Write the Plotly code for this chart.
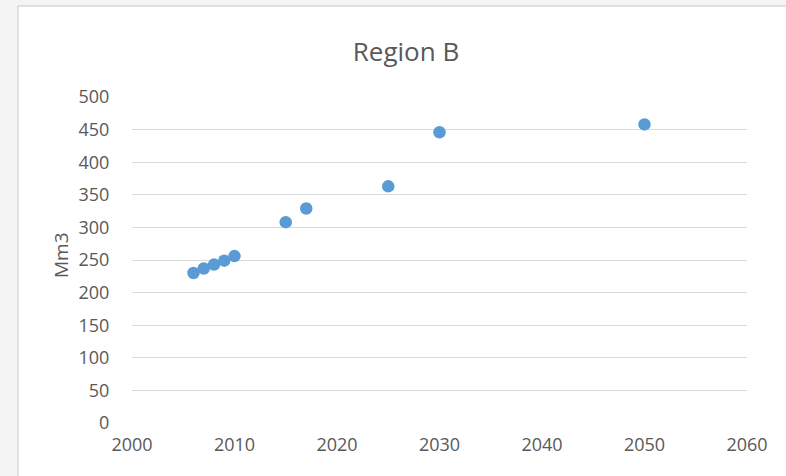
import plotly.graph_objects as go

years = [2006, 2007, 2008, 2009, 2010, 2015, 2017, 2025, 2030, 2050]
values = [230, 237, 243, 249, 256, 308, 329, 363, 446, 458]
title_text = "Region B"
y_title = "Mm3"
x_ticks = [2000, 2010, 2020, 2030, 2040, 2050, 2060]
y_ticks = list(range(0, 501, 50))

W, H = 786, 476
L, R, T, B = 132, 39, 97, 53
pw, ph = W - L - R, H - T - B

def px_x(p):
    return (p - L) / pw

def px_y(p):
    return (H - B - p) / ph

fig = go.Figure()
fig.add_trace(go.Scatter(
    x=years, y=values, mode="markers",
    marker=dict(color="#5b9bd5", size=12.5),
    showlegend=False,
))

font_family = "Open Sans, Liberation Sans, sans-serif"
grey = "#595959"
fig.update_layout(
    width=W, height=H,
    margin=dict(l=L, r=R, t=T, b=B, autoexpand=False),
    paper_bgcolor="white",
    plot_bgcolor="white",
    title=dict(text=title_text, x=406 / W, xanchor="center",
               y=1 - 52 / H, yanchor="middle",
               font=dict(family=font_family, size=26, color=grey)),
    xaxis=dict(range=[2000, 2060], tickvals=x_ticks, showgrid=False, zeroline=False,
               showline=False, ticks="outside", ticklen=5, tickcolor="rgba(0,0,0,0)",
               tickfont=dict(family=font_family, size=18, color=grey)),
    yaxis=dict(range=[0, 500], tickvals=y_ticks, showgrid=True, gridcolor="#d9d9d9", gridwidth=1,
               zeroline=False, showline=False, ticks="outside", ticklen=18,
               tickcolor="rgba(0,0,0,0)",
               tickfont=dict(family=font_family, size=18, color=grey)),
    annotations=[
        dict(text=y_title, xref="paper", yref="paper", x=px_x(61), y=px_y(255),
             xanchor="center", yanchor="middle", textangle=-90, showarrow=False,
             font=dict(family=font_family, size=19, color=grey)),
    ],
    shapes=[
        dict(type="rect", xref="paper", yref="paper", layer="below",
             x0=px_x(0), x1=px_x(18), y0=px_y(H), y1=px_y(0),
             fillcolor="#f4f4f4", line=dict(width=0)),
        dict(type="rect", xref="paper", yref="paper", layer="below",
             x0=px_x(18), x1=px_x(W), y0=px_y(6), y1=px_y(0),
             fillcolor="#f4f4f4", line=dict(width=0)),
        dict(type="line", xref="paper", yref="paper",
             x0=px_x(18), x1=px_x(18), y0=px_y(6), y1=px_y(H),
             line=dict(color="#d9d9d9", width=1.5)),
        dict(type="line", xref="paper", yref="paper",
             x0=px_x(18), x1=px_x(W), y0=px_y(6), y1=px_y(6),
             line=dict(color="#d9d9d9", width=1.5)),
    ],
)

fig.write_html("out.html", config={"displayModeBar": False},
               post_script="document.body.style.margin='0';document.body.style.overflow='hidden';")
